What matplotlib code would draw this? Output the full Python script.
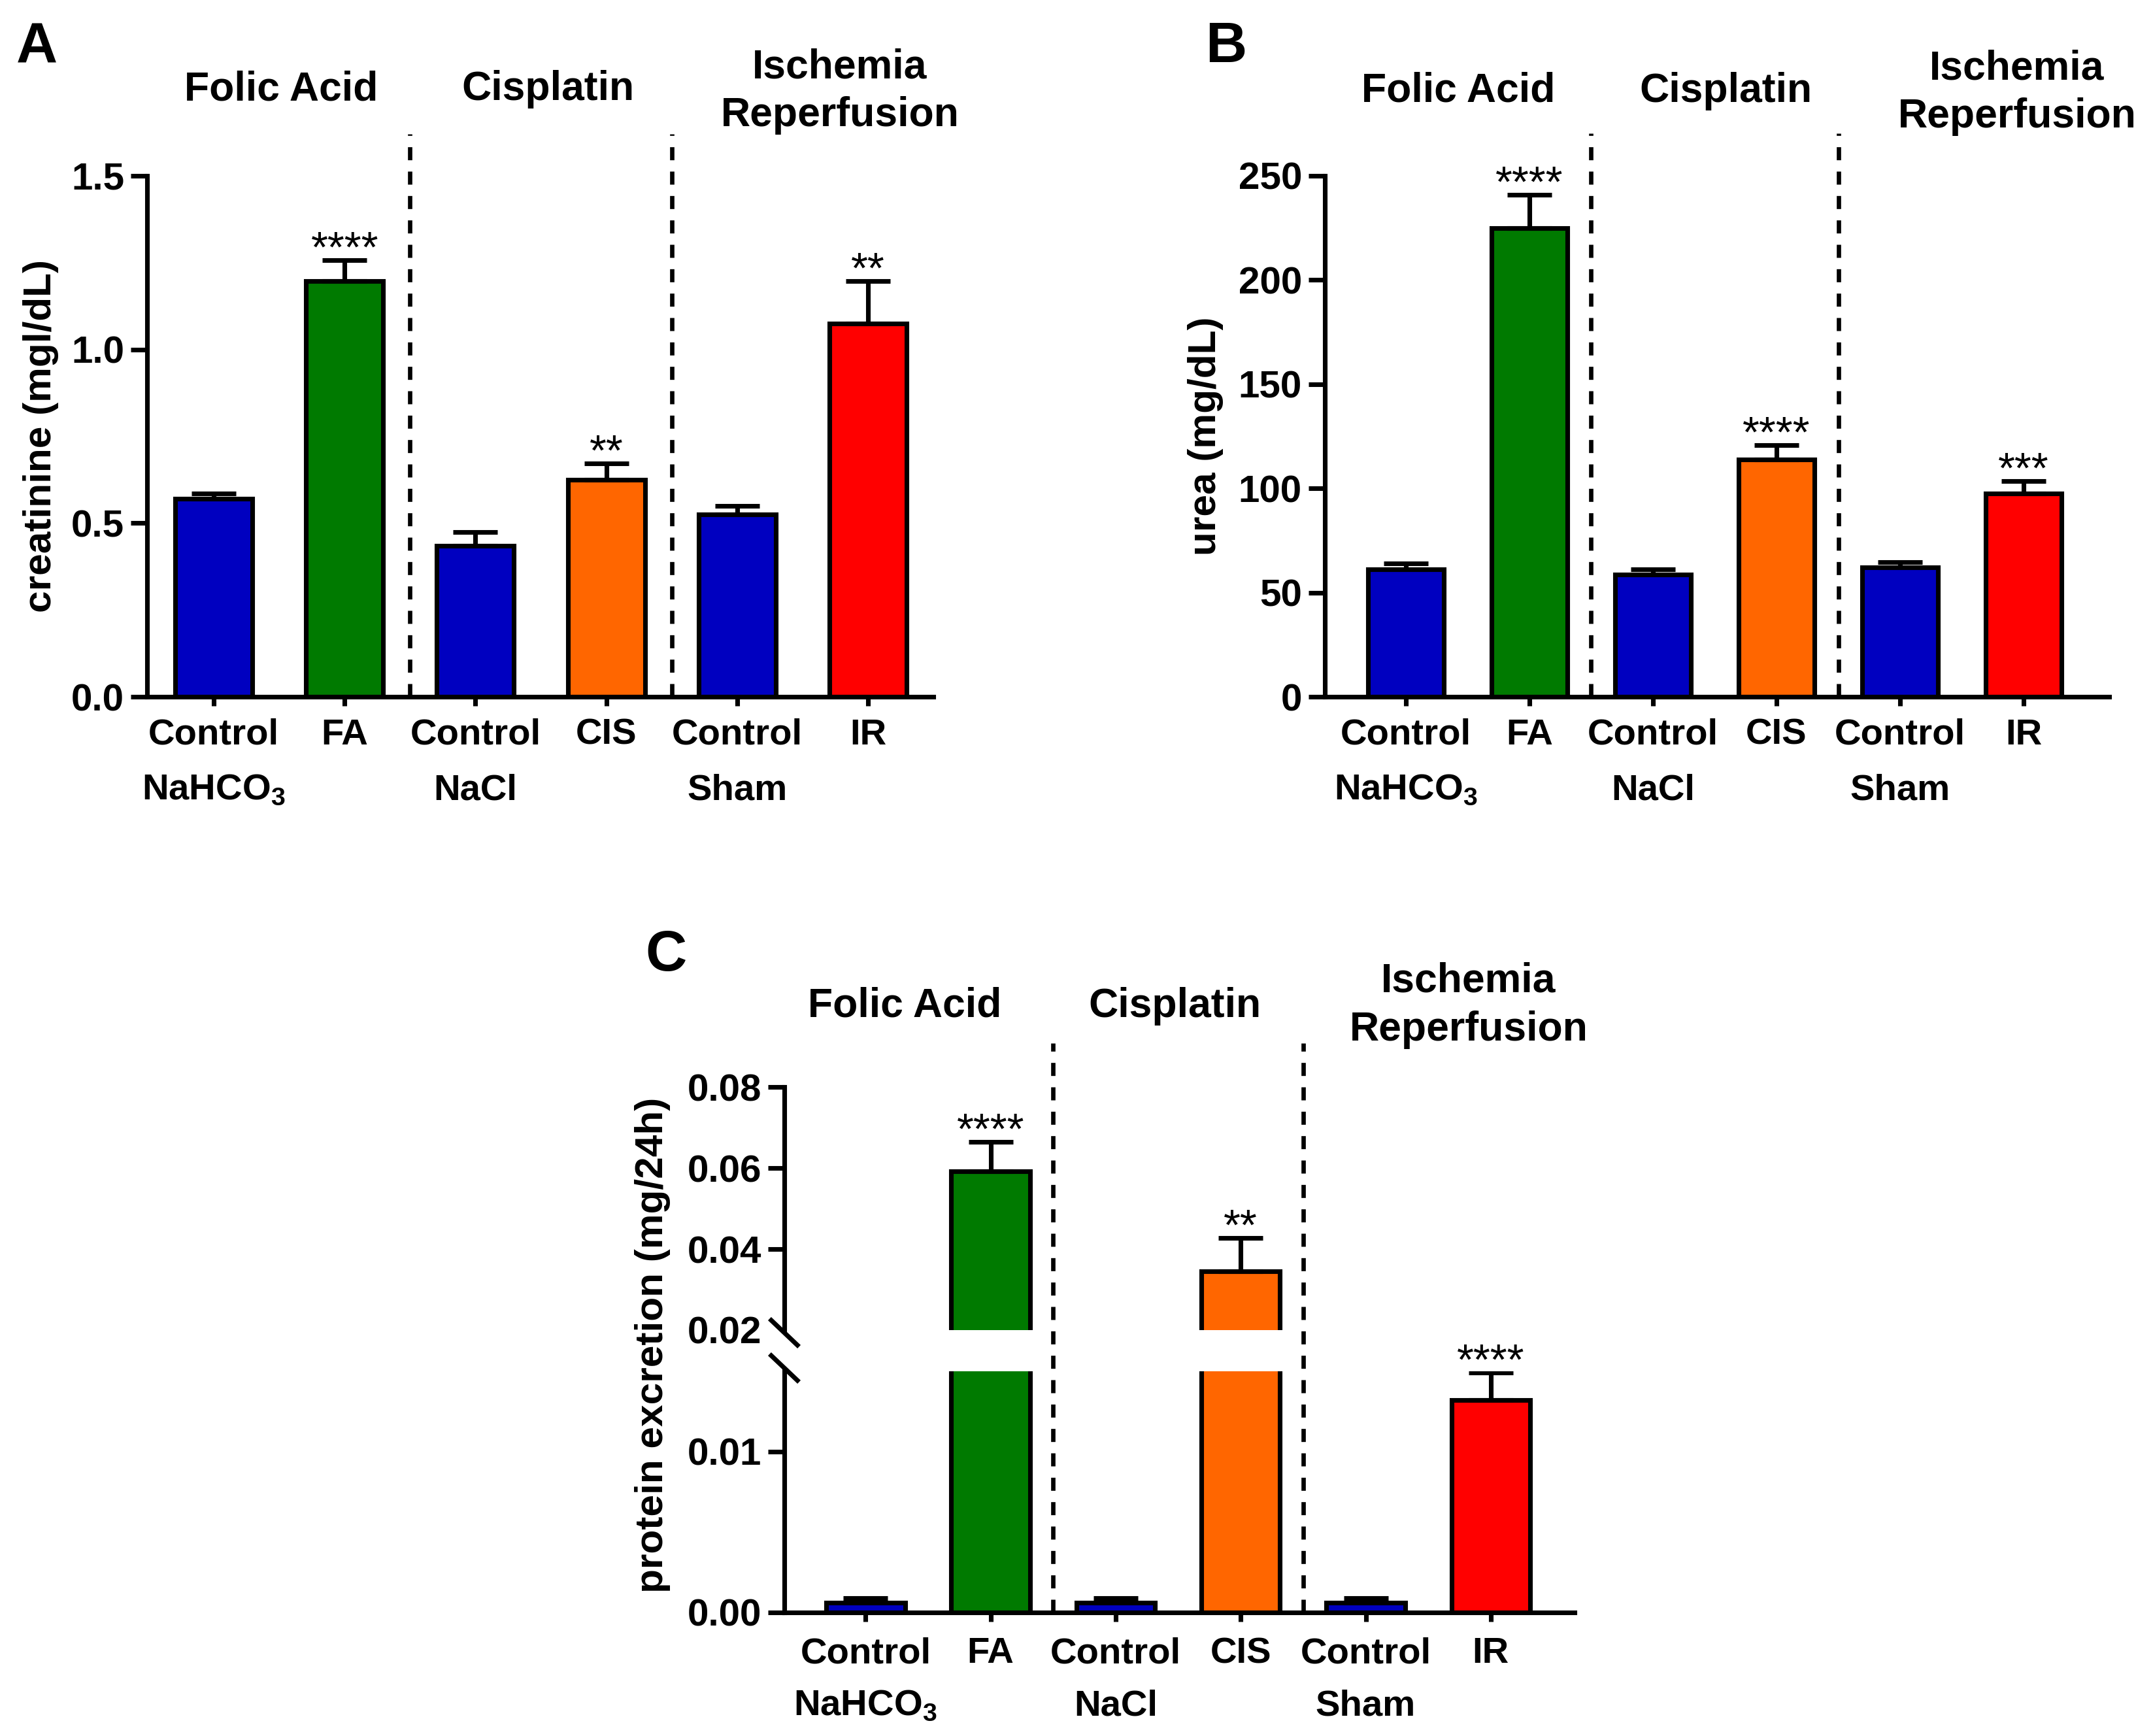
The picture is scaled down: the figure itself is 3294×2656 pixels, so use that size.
import matplotlib
matplotlib.use('Agg')
import matplotlib.pyplot as plt
import numpy as np

plt.rcParams['font.family'] = ['Liberation Sans', 'DejaVu Sans']
plt.rcParams['mathtext.fontset'] = 'custom'
plt.rcParams['mathtext.bf'] = 'Liberation Sans:bold'
plt.rcParams['mathtext.rm'] = 'Liberation Sans:bold'

# ---------------- data ----------------
group_titles = ['Folic Acid', 'Cisplatin', 'Ischemia', 'Reperfusion']
cond_labels = ['Control', 'FA', 'Control', 'CIS', 'Control', 'IR']
sub_labels = [r'NaHCO$_\mathbf{3}$', '', 'NaCl', '', 'Sham', '']
bar_colors = ['#0000C0', '#007A00', '#0000C0', '#FF6600', '#0000C0', '#FF0000']

creat_mean = [0.571, 1.197, 0.435, 0.624, 0.526, 1.075]
creat_err = [0.014, 0.060, 0.040, 0.048, 0.023, 0.122]
creat_stars = ['', '****', '', '**', '', '**']

urea_mean = [61.3, 225.0, 58.7, 114.0, 62.0, 97.6]
urea_err = [2.7, 15.8, 2.6, 6.7, 2.6, 5.9]
urea_stars = ['', '****', '', '****', '', '***']

prot_mean = [0.0006, 0.0592, 0.0006, 0.0345, 0.0006, 0.0132]
prot_err = [0.0003, 0.0072, 0.0003, 0.0082, 0.0003, 0.0017]
prot_stars = ['', '****', '', '**', '', '****']

creat_ticks = [0.0, 0.5, 1.0, 1.5]
urea_ticks = [0, 50, 100, 150, 200, 250]
prot_ticks_upper = [0.02, 0.04, 0.06, 0.08]
prot_ticks_lower = [0.00, 0.01]

# ---------------- layout ----------------
W, H = 3294, 2656
fig = plt.figure(figsize=(W / 300, H / 300), dpi=300)


def rect(l, t, r, b):
    return [l / W, 1 - b / H, (r - l) / W, (b - t) / H]


def ft(x, y, s, **kw):
    return fig.text(x / W, 1 - y / H, s, **kw)


LW = 1.7
TICK_FS = 14
XT_FS = 13.5
TITLE_FS = 15
LETTER_FS = 21
STAR_FS = 16
YLAB_FS = 14.5


def base_style(ax, xlim, ylim):
    ax.set_xlim(*xlim)
    ax.set_ylim(*ylim)
    for s in ('top', 'right'):
        ax.spines[s].set_visible(False)
    for s in ('left', 'bottom'):
        ax.spines[s].set_linewidth(LW)
    ax.tick_params(axis='y', length=6, width=LW, pad=2.4, labelsize=TICK_FS)
    ax.tick_params(axis='x', length=3.4, width=LW, labelsize=XT_FS)


def draw_bars(ax, width, means, errs):
    x = np.arange(len(means))
    ax.bar(x, means, width, color=bar_colors, edgecolor='black',
           linewidth=LW, zorder=2)
    ax.errorbar(x, means, yerr=[np.zeros(len(errs)), errs], fmt='none',
                ecolor='black', elinewidth=LW, capsize=8.2, capthick=LW,
                zorder=3)


def draw_stars(ax, means, errs, stars, only=None):
    for i, (m, e, s) in enumerate(zip(means, errs, stars)):
        if s and (only is None or only(m + e)):
            ax.annotate(s, xy=(i, m + e), xytext=(0, -0.5),
                        textcoords='offset points', ha='center',
                        va='baseline', fontsize=STAR_FS,
                        annotation_clip=False)


def draw_xlabels(ax, off1, off2):
    x = np.arange(len(cond_labels))
    ax.set_xticks(x, cond_labels, fontweight='bold', va='baseline')
    ax.tick_params(axis='x', pad=off1 - 3.4)
    for i, s in enumerate(sub_labels):
        if s:
            ax.annotate(s, xy=(i, 0), xycoords=('data', 'axes fraction'),
                        xytext=(0, -off2), textcoords='offset points',
                        ha='center', va='baseline', fontsize=XT_FS,
                        fontweight='bold', annotation_clip=False)


def draw_dividers(ax, top):
    for xv in (1.5, 3.5):
        ax.plot([xv, xv], [0, top], color='black', lw=1.6,
                ls=(0, (3.0, 2.6)), clip_on=False, zorder=1)


# ---------------- Panel A ----------------
axA = fig.add_axes(rect(225, 269, 1428, 1066))
base_style(axA, (-0.51, 5.5), (0, 1.5))
draw_bars(axA, 0.59, creat_mean, creat_err)
draw_stars(axA, creat_mean, creat_err, creat_stars)
axA.set_yticks(creat_ticks, [f'{v:.1f}' for v in creat_ticks], fontweight='bold')
draw_xlabels(axA, 17.5, 37.7)
draw_dividers(axA, 1.62)

ft(25, 95, 'A', fontsize=LETTER_FS, fontweight='bold', ha='left', va='baseline')
ft(430, 153, group_titles[0], fontsize=TITLE_FS, fontweight='bold', ha='center', va='baseline')
ft(838, 153, group_titles[1], fontsize=TITLE_FS, fontweight='bold', ha='center', va='baseline')
ft(1285, 120, group_titles[2], fontsize=TITLE_FS, fontweight='bold', ha='center', va='baseline')
ft(1285, 193, group_titles[3], fontsize=TITLE_FS, fontweight='bold', ha='center', va='baseline')
ft(63, 667, 'creatinine (mgl/dL)', fontsize=YLAB_FS, fontweight='bold',
   rotation=90, ha='center', va='center')

# ---------------- Panel B ----------------
axB = fig.add_axes(rect(2027, 269, 3227, 1066))
base_style(axB, (-0.656, 5.693), (0, 250))
draw_bars(axB, 0.61, urea_mean, urea_err)
draw_stars(axB, urea_mean, urea_err, urea_stars)
axB.set_yticks(urea_ticks, [f'{v:d}' for v in urea_ticks], fontweight='bold')
draw_xlabels(axB, 17.5, 37.7)
draw_dividers(axB, 270.4)

ft(1844, 95, 'B', fontsize=LETTER_FS, fontweight='bold', ha='left', va='baseline')
ft(2231, 156, group_titles[0], fontsize=TITLE_FS, fontweight='bold', ha='center', va='baseline')
ft(2640, 156, group_titles[1], fontsize=TITLE_FS, fontweight='bold', ha='center', va='baseline')
ft(3086, 122, group_titles[2], fontsize=TITLE_FS, fontweight='bold', ha='center', va='baseline')
ft(3086, 195, group_titles[3], fontsize=TITLE_FS, fontweight='bold', ha='center', va='baseline')
ft(1844, 667, 'urea (mg/dL)', fontsize=YLAB_FS, fontweight='bold',
   rotation=90, ha='center', va='center')

# ---------------- Panel C (broken axis) ----------------
CL, CR = 1200, 2409
axCl = fig.add_axes(rect(CL, 2098, CR, 2467))
axCu = fig.add_axes(rect(CL, 1663, CR, 2035))
axCu.patch.set_visible(False)
axCl.patch.set_visible(False)

base_style(axCl, (-0.65, 5.67), (0, 0.015))
base_style(axCu, (-0.65, 5.67), (0.02, 0.08))
axCu.spines['bottom'].set_visible(False)
axCu.tick_params(axis='x', bottom=False, labelbottom=False)

draw_bars(axCl, 0.63, prot_mean, prot_err)
draw_bars(axCu, 0.63, prot_mean, prot_err)
draw_stars(axCl, prot_mean, prot_err, prot_stars, only=lambda v: v <= 0.015)
draw_stars(axCu, prot_mean, prot_err, prot_stars, only=lambda v: v > 0.015)

axCl.set_yticks(prot_ticks_lower, [f'{v:.2f}' for v in prot_ticks_lower], fontweight='bold')
axCu.set_yticks(prot_ticks_upper, [f'{v:.2f}' for v in prot_ticks_upper], fontweight='bold')
axCu.yaxis.get_major_ticks()[0].tick1line.set_visible(False)
draw_xlabels(axCl, 18.5, 37.7)
draw_dividers(axCl, 0.0354)

# break marks on the y axis
hu = 2035 - 1663
hl = 2467 - 2098
cw = CR - CL
dx = 20 / cw
axCu.plot([-dx, dx], [-4 / hu + 19 / hu, -4 / hu - 19 / hu], transform=axCu.transAxes,
          color='black', lw=LW, clip_on=False)
axCl.plot([-dx, dx], [1 + 5 / hl + 19 / hl, 1 + 5 / hl - 19 / hl], transform=axCl.transAxes,
          color='black', lw=LW, clip_on=False)

ft(987, 1485, 'C', fontsize=LETTER_FS, fontweight='bold', ha='left', va='baseline')
ft(1384, 1556, group_titles[0], fontsize=TITLE_FS, fontweight='bold', ha='center', va='baseline')
ft(1797, 1556, group_titles[1], fontsize=TITLE_FS, fontweight='bold', ha='center', va='baseline')
ft(2247, 1518, group_titles[2], fontsize=TITLE_FS, fontweight='bold', ha='center', va='baseline')
ft(2247, 1592, group_titles[3], fontsize=TITLE_FS, fontweight='bold', ha='center', va='baseline')
ft(998, 2058, 'protein excretion (mg/24h)', fontsize=YLAB_FS, fontweight='bold',
   rotation=90, ha='center', va='center')

fig.savefig('out.png', dpi=300, facecolor='white')
